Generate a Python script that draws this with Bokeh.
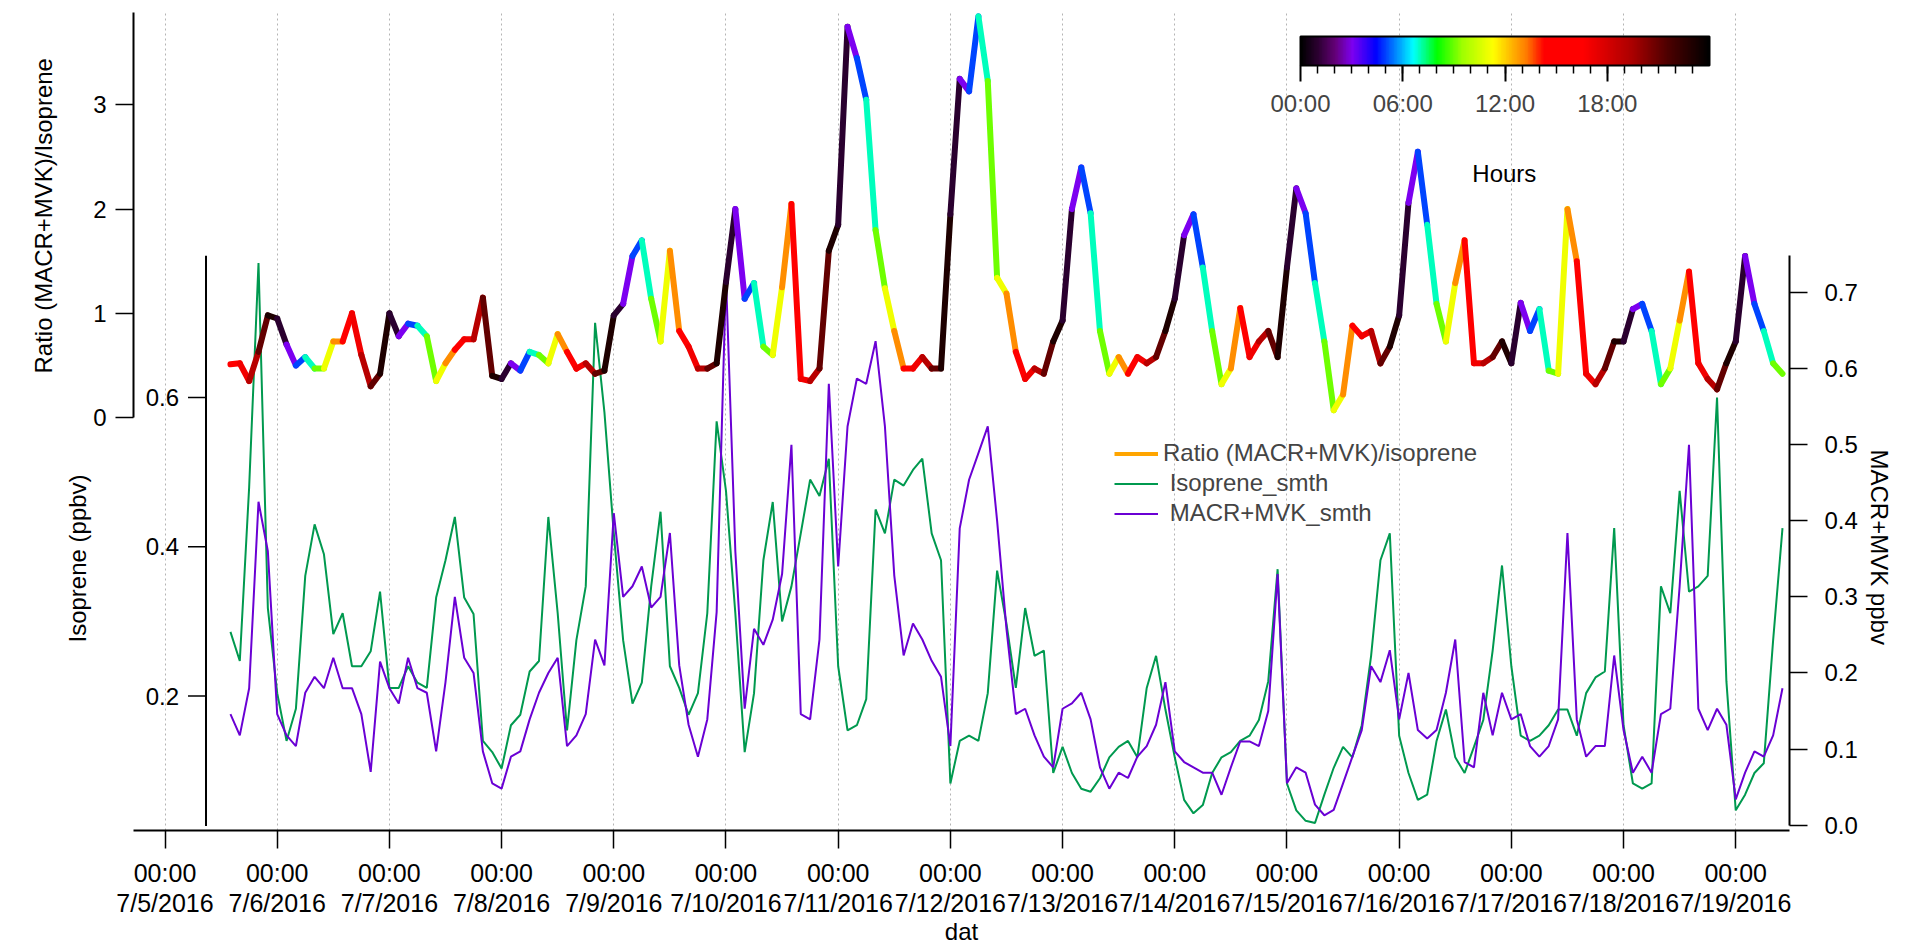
import numpy as np
from bokeh.plotting import figure
from bokeh.models import (Range1d, LinearAxis, FixedTicker, LinearColorMapper, ColorBar,
                          Legend, LegendItem, Label, Title, ColumnDataSource, PrintfTickFormatter)
from bokeh.transform import transform
from bokeh.core.properties import value
from bokeh.embed import file_html
from bokeh.resources import INLINE

# ---------------- data (time in hours since 7/5/2016 00:00, 2 h steps) ----------------
hours = list(range(14, 347, 2))

ratio = [
    0.51, 0.52, 0.35, 0.63, 0.98,                                   # 7/5 14-22h
    0.95, 0.70, 0.50, 0.58, 0.47, 0.47, 0.73, 0.73, 1.00, 0.60, 0.30, 0.42,   # 7/6
    1.00, 0.78, 0.90, 0.88, 0.78, 0.35, 0.52, 0.65, 0.75, 0.75, 1.15, 0.40,   # 7/7
    0.37, 0.52, 0.45, 0.63, 0.60, 0.52, 0.80, 0.63, 0.47, 0.52, 0.42, 0.45,   # 7/8
    0.98, 1.09, 1.55, 1.70, 1.14, 0.73, 1.60, 0.83, 0.68, 0.47, 0.47, 0.52,   # 7/9
    1.30, 2.00, 1.14, 1.29, 0.68, 0.60, 1.25, 2.05, 0.37, 0.35, 0.47, 1.60,   # 7/10
    1.85, 3.75, 3.45, 3.05, 1.80, 1.24, 0.83, 0.47, 0.47, 0.58, 0.47, 0.47,   # 7/11
    1.95, 3.25, 3.13, 3.85, 3.23, 1.34, 1.19, 0.63, 0.37, 0.47, 0.42, 0.73,   # 7/12
    0.93, 2.00, 2.40, 1.96, 0.83, 0.42, 0.58, 0.42, 0.58, 0.52, 0.58, 0.83,   # 7/13
    1.14, 1.75, 1.95, 1.44, 0.83, 0.32, 0.47, 1.05, 0.58, 0.73, 0.83, 0.58,   # 7/14
    1.44, 2.20, 1.96, 1.29, 0.73, 0.07, 0.22, 0.88, 0.78, 0.83, 0.52, 0.68,   # 7/15
    0.98, 2.06, 2.55, 1.85, 1.09, 0.73, 1.29, 1.70, 0.52, 0.52, 0.58, 0.73,   # 7/16
    0.52, 1.10, 0.83, 1.04, 0.45, 0.42, 2.00, 1.50, 0.42, 0.32, 0.47, 0.73,   # 7/17
    0.73, 1.04, 1.09, 0.83, 0.32, 0.47, 0.93, 1.40, 0.52, 0.37, 0.27, 0.52,   # 7/18
    0.73, 1.55, 1.09, 0.83, 0.52, 0.42,                                       # 7/19
]

isoprene = [
    0.286, 0.247, 0.48, 0.78, 0.318,
    0.204, 0.14, 0.183, 0.361, 0.43, 0.39, 0.283, 0.311, 0.24, 0.24, 0.26, 0.34,
    0.211, 0.211, 0.24, 0.218, 0.211, 0.332, 0.382, 0.44, 0.332, 0.31, 0.14, 0.125,
    0.103, 0.161, 0.175, 0.233, 0.247, 0.44, 0.311, 0.154, 0.275, 0.347, 0.70, 0.58,
    0.418, 0.275, 0.19, 0.218, 0.347, 0.447, 0.24, 0.211, 0.175, 0.204, 0.311, 0.568,
    0.475, 0.311, 0.125, 0.204, 0.382, 0.46, 0.30, 0.347, 0.418, 0.49, 0.468, 0.518,
    0.24, 0.154, 0.161, 0.196, 0.45, 0.418, 0.49, 0.482, 0.503, 0.518, 0.418, 0.382,
    0.083, 0.14, 0.147, 0.14, 0.204, 0.368, 0.297, 0.211, 0.318, 0.254, 0.261, 0.097,
    0.132, 0.097, 0.076, 0.072, 0.09, 0.118, 0.132, 0.14, 0.118, 0.211, 0.254, 0.182,
    0.118, 0.061, 0.043, 0.054, 0.097, 0.118, 0.125, 0.14, 0.147, 0.168, 0.22, 0.37,
    0.083, 0.047, 0.033, 0.03, 0.068, 0.104, 0.132, 0.118, 0.161, 0.254, 0.382, 0.418,
    0.147, 0.097, 0.061, 0.068, 0.14, 0.182, 0.118, 0.097, 0.132, 0.168, 0.261, 0.375,
    0.24, 0.147, 0.14, 0.147, 0.161, 0.182, 0.182, 0.147, 0.204, 0.225, 0.233, 0.425,
    0.161, 0.083, 0.076, 0.083, 0.347, 0.311, 0.475, 0.34, 0.347, 0.361, 0.60, 0.22,
    0.047, 0.068, 0.097, 0.11, 0.275, 0.425,
]

macr_mvk = [
    0.146, 0.118, 0.18, 0.425, 0.36,
    0.146, 0.118, 0.104, 0.174, 0.195, 0.18, 0.22, 0.18, 0.18, 0.146, 0.07, 0.215,
    0.18, 0.16, 0.22, 0.18, 0.174, 0.097, 0.188, 0.30, 0.22, 0.20, 0.097, 0.055,
    0.048, 0.09, 0.097, 0.139, 0.174, 0.20, 0.22, 0.104, 0.118, 0.146, 0.244, 0.21,
    0.41, 0.30, 0.314, 0.34, 0.286, 0.30, 0.384, 0.21, 0.132, 0.09, 0.139, 0.28,
    0.72, 0.36, 0.153, 0.258, 0.237, 0.27, 0.33, 0.50, 0.146, 0.139, 0.244, 0.58,
    0.34, 0.524, 0.587, 0.58, 0.636, 0.524, 0.328, 0.223, 0.265, 0.244, 0.216, 0.195,
    0.104, 0.39, 0.454, 0.489, 0.524, 0.40, 0.258, 0.146, 0.153, 0.118, 0.09, 0.076,
    0.153, 0.16, 0.174, 0.139, 0.076, 0.048, 0.069, 0.062, 0.09, 0.104, 0.132, 0.188,
    0.097, 0.083, 0.076, 0.069, 0.069, 0.04, 0.076, 0.11, 0.11, 0.104, 0.15, 0.33,
    0.055, 0.076, 0.069, 0.027, 0.013, 0.02, 0.055, 0.09, 0.125, 0.209, 0.188, 0.23,
    0.139, 0.20, 0.125, 0.114, 0.125, 0.174, 0.244, 0.083, 0.076, 0.174, 0.118, 0.174,
    0.139, 0.146, 0.104, 0.09, 0.104, 0.139, 0.384, 0.139, 0.09, 0.104, 0.104, 0.223,
    0.125, 0.069, 0.09, 0.069, 0.146, 0.153, 0.314, 0.50, 0.153, 0.125, 0.153, 0.132,
    0.034, 0.069, 0.097, 0.09, 0.118, 0.18,
]

day_ticks = [24 * d for d in range(15)]
day_labels = ["00:00\n7/%d/2016" % (5 + d) for d in range(15)]
ratio_ticks = [0, 1, 2, 3]
iso_ticks = [0.2, 0.4, 0.6]
iso_labels = ["0.2", "0.4", "0.6"]
macr_ticks = [0.0, 0.1, 0.2, 0.3, 0.4, 0.5, 0.6, 0.7]
hour_ticks = [0, 6, 12, 18]
hour_labels = ["00:00", "06:00", "12:00", "18:00"]

# ---------------- styling ----------------
FONT = "Liberation Sans"
FS = "24px"
GREEN = "#00994F"
PURPLE = "#6A00D4"
ISO_AXIS_X = 8.77      # hour position of the inner isoprene axis

stops = [(0.0, (0, 0, 0)), (1.0, (45, 0, 50)), (2.0, (100, 0, 120)), (3.0, (125, 0, 240)),
         (4.4, (0, 0, 255)), (6.6, (0, 255, 255)), (8.0, (0, 255, 0)), (9.5, (160, 255, 0)),
         (11.3, (255, 255, 0)), (13.3, (255, 120, 0)), (14.3, (255, 0, 0)), (16.6, (255, 0, 0)),
         (19.5, (170, 0, 0)), (21.5, (80, 0, 0)), (24.0, (0, 0, 0))]
sh = [s[0] for s in stops]
palette = []
for k in range(256):
    hv = 24.0 * k / 255
    rgb = [int(round(np.interp(hv, sh, [s[1][c] for s in stops]))) for c in range(3)]
    palette.append("#%02x%02x%02x" % tuple(rgb))
mapper = LinearColorMapper(palette=palette, low=0, high=24)

p = figure(frame_width=1656, frame_height=818, min_border_left=133, min_border_top=12,
           min_border_right=116, min_border_bottom=117,
           x_range=Range1d(-6.74, 347.5), y_range=Range1d(-3.964, 3.887),
           output_backend="svg", toolbar_location=None, title=None)
p.outline_line_color = None
p.background_fill_color = "white"
p.border_fill_color = "white"
p.extra_y_ranges = {"iso": Range1d(0.020, 1.1157), "macr": Range1d(-0.007, 1.068)}

def style_axis(ax, standoff, fs=FS):
    ax.major_tick_in = 0
    ax.major_tick_out = 18
    ax.minor_tick_in = 0
    ax.minor_tick_out = 0
    ax.axis_line_width = 2
    ax.axis_line_color = "black"
    ax.major_tick_line_width = 1.5
    ax.major_tick_line_color = "black"
    ax.major_label_standoff = standoff
    ax.major_label_text_font = FONT
    ax.major_label_text_font_size = fs
    ax.major_label_text_color = "black"
    ax.axis_label_text_font = FONT
    ax.axis_label_text_font_size = FS
    ax.axis_label_text_font_style = "normal"
    ax.axis_label_text_color = "black"

def side_title(text, offset, standoff):
    return Title(text=text, align="left", offset=offset, standoff=standoff,
                 text_font=FONT, text_font_size=FS, text_font_style="normal",
                 text_color="black")

# x axis
xa = p.xaxis[0]
xa.ticker = FixedTicker(ticks=day_ticks, minor_ticks=[])
xa.major_label_overrides = dict(zip(day_ticks, day_labels))
style_axis(xa, 10, fs="25px")
xa.major_label_text_line_height = 1.1
xa.axis_label = "dat"
xa.axis_label_standoff = -2
p.xgrid.ticker = FixedTicker(ticks=day_ticks, minor_ticks=[])
p.xgrid.grid_line_color = "#b4b4b4"
p.xgrid.grid_line_dash = "2 3"
p.xgrid.grid_line_width = 1
p.ygrid.visible = False

# ratio axis (outer left)
ya = p.yaxis[0]
ya.ticker = FixedTicker(ticks=ratio_ticks, minor_ticks=[])
ya.bounds = (0, 3.887)
style_axis(ya, 9)

# axis titles to the left of the ratio axis (placed along their own axis extents)
p.add_layout(side_title("Isoprene (ppbv)", 188, 0), "left")
p.add_layout(side_title("Ratio (MACR+MVK)/Isoprene", 457, 10), "left")

# MACR+MVK axis (right)
m_axis = LinearAxis(y_range_name="macr", bounds=(0, 0.748),
                    ticker=FixedTicker(ticks=macr_ticks, minor_ticks=[]),
                    formatter=PrintfTickFormatter(format="%.1f"))
style_axis(m_axis, 17)
p.add_layout(m_axis, "right")
p.add_layout(side_title("MACR+MVK ppbv", 437, 10), "right")

# inner isoprene axis, drawn in the isoprene scale
p.segment(x0=[ISO_AXIS_X], y0=[0.026], x1=[ISO_AXIS_X], y1=[0.79], y_range_name="iso",
          line_color="black", line_width=2)
p.ray(x=[ISO_AXIS_X] * len(iso_ticks), y=iso_ticks, length=18, length_units="screen",
      angle=np.pi, y_range_name="iso", line_color="black", line_width=1.5)
p.text(x=[ISO_AXIS_X] * len(iso_ticks), y=iso_ticks, text=iso_labels, x_offset=-27,
       text_align="right", text_baseline="middle", text_font=value(FONT),
       text_font_size=value(FS), text_color="black", y_range_name="iso")

# ---------------- data glyphs ----------------
g = p.line(hours, isoprene, y_range_name="iso", line_color=GREEN, line_width=2)
m = p.line(hours, macr_mvk, y_range_name="macr", line_color=PURPLE, line_width=2)

h = np.array(hours, dtype=float)
seg = ColumnDataSource(dict(x0=h[:-1], x1=h[1:], y0=ratio[:-1], y1=ratio[1:],
                            hr=((h[:-1] + h[1:]) / 2.0) % 24))
p.segment(x0="x0", y0="y0", x1="x1", y1="y1", source=seg,
          line_color=transform("hr", mapper), line_width=6, line_cap="round")

# legend key for the colour-coded ratio trace
l_ratio = p.line([-100, -99], [np.nan, np.nan], line_color="#FFA500", line_width=4)

legend = Legend(items=[LegendItem(label="Ratio (MACR+MVK)/isoprene", renderers=[l_ratio]),
                       LegendItem(label=" Isoprene_smth", renderers=[g]),
                       LegendItem(label=" MACR+MVK_smth", renderers=[m])],
                location=(981, 303), padding=0, margin=0, spacing=2,
                glyph_width=44, glyph_height=27, label_height=27, label_standoff=5,
                border_line_color=None, background_fill_alpha=0,
                label_text_font=FONT, label_text_font_size=FS)
p.add_layout(legend, "center")

cb = ColorBar(color_mapper=mapper, orientation="horizontal", location=(1167, 711),
              width=409, height=29, padding=0,
              ticker=FixedTicker(ticks=hour_ticks, minor_ticks=list(range(1, 24))),
              major_label_overrides=dict(zip(hour_ticks, hour_labels)),
              major_tick_in=0, major_tick_out=16, major_tick_line_color="black",
              major_tick_line_width=2,
              minor_tick_in=0, minor_tick_out=8, minor_tick_line_color="black",
              minor_tick_line_width=1.5,
              bar_line_color="black", bar_line_width=2, label_standoff=8,
              major_label_text_font=FONT, major_label_text_font_size=FS,
              background_fill_color=None, border_line_color=None)
p.add_layout(cb, "center")

p.add_layout(Label(x=286.5, y=2.342, text="Hours", text_align="center", text_baseline="middle",
                   text_font=FONT, text_font_size=FS, text_color="black"))

open("out.html", "w").write(file_html(p, INLINE))
